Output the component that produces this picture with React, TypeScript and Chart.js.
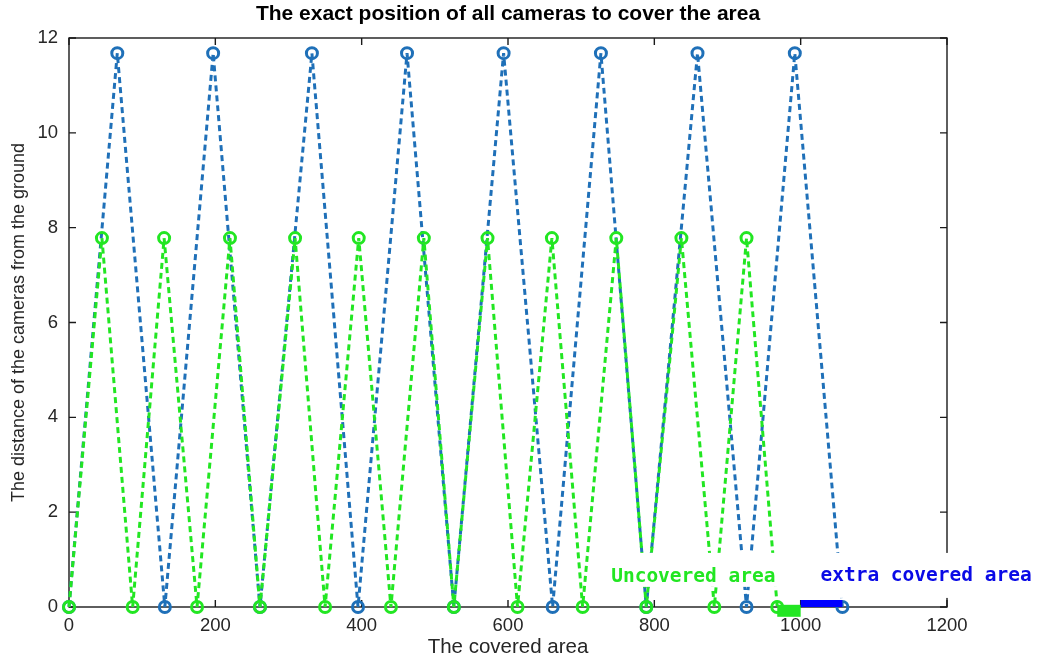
import React, { useEffect, useRef } from "react";
import { Chart, registerables } from "chart.js";

Chart.register(...registerables);

// ---- data ----
const greenX = [0, 45, 87, 130, 175, 220, 261, 309, 350, 396, 440, 485, 526, 572, 613, 660, 702, 748, 789, 837, 882, 926, 968];
const greenY = [0, 7.78, 0, 7.78, 0, 7.78, 0, 7.78, 0, 7.78, 0, 7.78, 0, 7.78, 0, 7.78, 0, 7.78, 0, 7.78, 0, 7.78, 0];
const blueX = [0, 66, 131, 197, 261, 332, 395, 462, 526, 594, 661, 727, 789, 859, 926, 992, 1057];
const blueY = [0, 11.68, 0, 11.68, 0, 11.68, 0, 11.68, 0, 11.68, 0, 11.68, 0, 11.68, 0, 11.68, 0];
const uncoveredX = [968, 1000];
const uncoveredY = [-0.08, -0.08];
const extraX = [1000, 1057];
const extraY = [0.075, 0.075];
const xTicks = [0, 200, 400, 600, 800, 1000, 1200];
const yTicks = [0, 2, 4, 6, 8, 10, 12];

const titleText = "The exact position of all cameras to cover the area";
const xTitle = "The covered area";
const yTitle = "The distance of the cameras from the ground";
const uncoveredLabel = "Uncovered area";
const extraLabel = "extra covered area";
const uncoveredLabelPos = [741, 0.53];
const extraLabelPos = [1027, 0.55];

const BLUE = "#1f70b8";
const GREEN = "#22e622";
const AXIS = "#262626";
const SANS = "'Liberation Sans', Arial, sans-serif";
const MONO = "'DejaVu Sans Mono', monospace";

const toPts = (xs: number[], ys: number[]) => xs.map((x, i) => ({ x, y: ys[i] }));

const framePlugin = {
  id: "frame",
  beforeDatasetsDraw(chart: any) {
    const { ctx, chartArea: a, scales } = chart;
    const x = scales.x;
    const y = scales.y;
    ctx.save();
    ctx.strokeStyle = "#1a1a1a";
    ctx.lineWidth = 1.4;
    ctx.strokeRect(a.left, a.top, a.right - a.left, a.bottom - a.top);
    const L = 7;
    ctx.beginPath();
    xTicks.forEach((v) => {
      const px = x.getPixelForValue(v);
      ctx.moveTo(px, a.bottom);
      ctx.lineTo(px, a.bottom - L);
      ctx.moveTo(px, a.top);
      ctx.lineTo(px, a.top + L);
    });
    yTicks.forEach((v) => {
      const py = y.getPixelForValue(v);
      ctx.moveTo(a.left, py);
      ctx.lineTo(a.left + L, py);
      ctx.moveTo(a.right, py);
      ctx.lineTo(a.right - L, py);
    });
    ctx.stroke();
    ctx.restore();
  },
};

const labelPlugin = {
  id: "labels",
  afterDraw(chart: any) {
    const { ctx, scales } = chart;
    const x = scales.x;
    const y = scales.y;
    ctx.save();
    ctx.font = `bold 19.5px ${MONO}`;
    ctx.textBaseline = "alphabetic";
    ctx.textAlign = "left";
    const ux = x.getPixelForValue(uncoveredLabelPos[0]);
    const uy = y.getPixelForValue(uncoveredLabelPos[1]);
    const uw = ctx.measureText(uncoveredLabel).width;
    ctx.fillStyle = "#ffffff";
    ctx.fillRect(ux - 12, uy - 29, uw + 22, 34);
    const ex = x.getPixelForValue(extraLabelPos[0]);
    const ey = y.getPixelForValue(extraLabelPos[1]);
    const ew = ctx.measureText(extraLabel).width;
    ctx.fillRect(ex - 33, ey - 28, ew + 40, 45);
    ctx.fillStyle = "#22e622";
    ctx.fillText(uncoveredLabel, ux, uy);
    ctx.fillStyle = "#0a0ae6";
    ctx.fillText(extraLabel, ex, ey);
    ctx.restore();
  },
};

export default function App() {
  const ref = useRef<HTMLCanvasElement | null>(null);

  useEffect(() => {
    if (!ref.current) return;
    const lineCommon = {
      borderDash: [6, 4],
      borderWidth: 3,
      pointRadius: 5.5,
      pointBorderWidth: 3,
      pointBackgroundColor: "rgba(0,0,0,0)",
      pointStyle: "circle",
      tension: 0,
      fill: false,
      clip: false as any,
    };
    const chart = new Chart(ref.current, {
      type: "line",
      data: {
        datasets: [
          {
            label: "uncovered",
            data: toPts(uncoveredX, uncoveredY),
            borderColor: GREEN,
            borderWidth: 12,
            pointRadius: 0,
            borderCapStyle: "butt",
            clip: false as any,
          },
          {
            label: "green",
            data: toPts(greenX, greenY),
            borderColor: GREEN,
            pointBorderColor: GREEN,
            ...lineCommon,
          },
          {
            label: "extra",
            data: toPts(extraX, extraY),
            borderColor: "#0000ff",
            borderWidth: 7,
            pointRadius: 0,
            borderCapStyle: "butt",
            clip: false as any,
          },
          {
            label: "blue",
            data: toPts(blueX, blueY),
            borderColor: BLUE,
            pointBorderColor: BLUE,
            ...lineCommon,
          },
        ],
      },
      options: {
        responsive: false,
        animation: false,
        layout: { padding: { left: 0, right: 97, top: 0, bottom: 0 } },
        plugins: {
          legend: { display: false },
          tooltip: { enabled: false },
          title: {
            display: true,
            fullSize: false,
            text: titleText,
            color: "#000",
            font: { family: SANS, size: 21, weight: "bold" },
            padding: { top: 2, bottom: 10.8 },
          },
        },
        scales: {
          x: {
            type: "linear",
            min: 0,
            max: 1200,
            afterFit: (s: any) => {
              s.height = 56;
            },
            afterBuildTicks: (s: any) => {
              s.ticks = xTicks.map((v) => ({ value: v }));
            },
            grid: { display: false, drawTicks: false },
            border: { display: false },
            ticks: {
              autoSkip: false,
              maxRotation: 0,
              padding: 8,
              color: AXIS,
              font: { family: SANS, size: 18.5 },
              callback: (v: any) => String(v),
            },
            title: {
              display: true,
              text: xTitle,
              color: AXIS,
              font: { family: SANS, size: 20.5 },
              padding: { top: 0, bottom: 3 },
            },
          },
          y: {
            type: "linear",
            min: 0,
            max: 12,
            afterFit: (s: any) => {
              s.width = 69;
            },
            afterBuildTicks: (s: any) => {
              s.ticks = yTicks.map((v) => ({ value: v }));
            },
            grid: { display: false, drawTicks: false },
            border: { display: false },
            ticks: {
              autoSkip: false,
              padding: 11,
              color: AXIS,
              font: { family: SANS, size: 18.5 },
              callback: (v: any) => String(v),
            },
            title: {
              display: true,
              text: yTitle,
              color: AXIS,
              font: { family: SANS, size: 18 },
              padding: { top: 8, bottom: 0 },
            },
          },
        },
      },
      plugins: [framePlugin, labelPlugin],
    });
    return () => chart.destroy();
  }, []);

  return (
    <div style={{ position: "fixed", left: 0, top: 0, width: 1044, height: 663, background: "#fff" }}>
      <canvas ref={ref} width={1044} height={663} style={{ display: "block" }} />
    </div>
  );
}
